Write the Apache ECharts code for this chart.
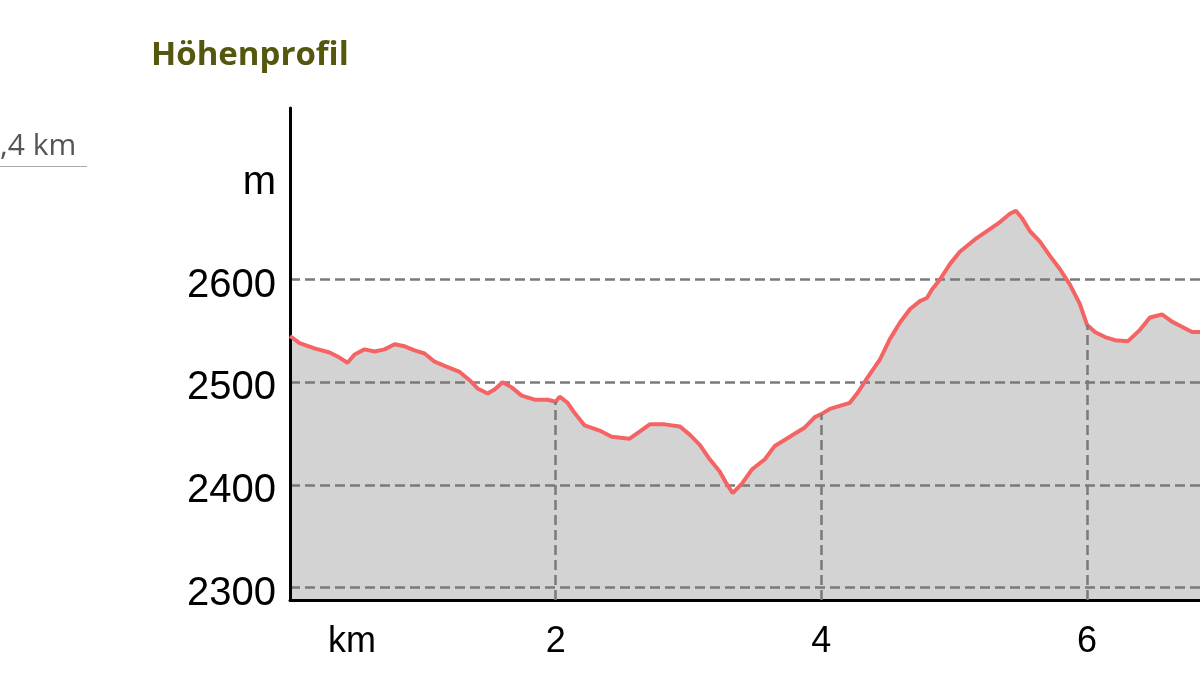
<!DOCTYPE html>
<html>
<head>
<meta charset="utf-8">
<script src="https://cdn.jsdelivr.net/npm/echarts@6/dist/echarts.min.js"></script>
<style>
html,body{margin:0;padding:0;background:#fff;}
#chart{width:1200px;height:684px;}
</style>
</head>
<body>
<div id="chart"></div>
<script>
// distance along route (km)
const distanceKm = [0, 0.072, 0.185, 0.298, 0.373, 0.433, 0.486, 0.561, 0.637, 0.712, 0.787, 0.863, 0.938, 1.013, 1.089, 1.164, 1.277, 1.352, 1.412, 1.488, 1.540, 1.601, 1.669, 1.744, 1.842, 1.940, 2.0, 2.030, 2.090, 2.143, 2.218, 2.331, 2.422, 2.557, 2.632, 2.708, 2.821, 2.934, 3.009, 3.085, 3.160, 3.235, 3.288, 3.333, 3.401, 3.477, 3.575, 3.650, 3.763, 3.876, 3.951, 4.0, 4.064, 4.215, 4.275, 4.350, 4.441, 4.516, 4.591, 4.667, 4.742, 4.795, 4.832, 4.893, 4.968, 5.043, 5.156, 5.269, 5.345, 5.420, 5.465, 5.510, 5.571, 5.646, 5.721, 5.797, 5.872, 5.947, 6.0, 6.060, 6.136, 6.211, 6.309, 6.399, 6.474, 6.565, 6.640, 6.715, 6.791, 6.851];
// elevation (m)
const elevationM = [2545, 2538, 2533, 2529, 2524, 2519, 2527, 2532, 2530, 2532, 2537, 2535, 2531, 2528, 2520, 2516, 2510, 2502, 2494, 2489, 2493, 2500, 2495, 2487, 2483, 2483, 2481, 2486, 2480, 2470, 2458, 2453, 2447, 2445, 2452, 2459, 2459, 2457, 2449, 2439, 2425, 2413, 2401, 2392, 2401, 2415, 2425, 2438, 2447, 2456, 2466, 2469, 2474, 2480, 2490, 2505, 2522, 2542, 2558, 2571, 2579, 2582, 2590, 2600, 2615, 2627, 2639, 2649, 2656, 2664, 2667, 2660, 2647, 2637, 2623, 2610, 2595, 2576, 2556, 2549, 2544, 2541, 2540, 2551, 2563, 2566, 2559, 2554, 2549, 2549];
const yTickValues = [2300, 2400, 2500, 2600];
const yLabelValues = [2300, 2400, 2500, 2600, 2700];
const yUnitLabel = 'm';
const xTickValues = [2, 4, 6];
const xUnitLabel = 'km';
const titleText = 'Höhenprofil';
const sideText = ',4 km';

const yMin = 2288, yMax = 2767, xMax = 6.851;

const seriesData = distanceKm.map((d, i) => [d, elevationM[i]]);
function elevAt(km) {
  const i = distanceKm.indexOf(km);
  return elevationM[i];
}
const vLines = xTickValues.map(v => [{coord: [v, yMin]}, {coord: [v, elevAt(v)]}]);

const chart = echarts.init(document.getElementById('chart'));
chart.setOption({
  animation: false,
  backgroundColor: '#ffffff',
  grid: {left: 290, top: 108, right: 0, bottom: 84},
  graphic: [
    {type: 'text', left: 151, top: 39, style: {text: titleText, font: 'bold 33px "Open Sans"', fill: '#55570f'}},
    {type: 'text', left: 0, top: 131, style: {text: sideText, font: '30px "Open Sans"', fill: '#555555'}},
    {type: 'rect', shape: {x: 0, y: 166, width: 87, height: 1}, style: {fill: '#aaaaaa'}},
    {type: 'text', left: 328, top: 624, style: {text: xUnitLabel, font: '36px "Liberation Sans"', fill: '#000'}}
  ],
  xAxis: {
    type: 'value', min: 0, max: xMax,
    axisLine: {show: true, onZero: false, lineStyle: {color: '#000', width: 3}},
    axisTick: {show: false, customValues: xTickValues},
    splitLine: {show: false},
    axisLabel: {customValues: xTickValues, color: '#000', fontSize: 36, fontFamily: 'Liberation Sans', margin: 24},
    z: 4
  },
  yAxis: {
    type: 'value', min: yMin, max: yMax,
    axisLine: {show: true, lineStyle: {color: '#000', width: 3}},
    axisTick: {show: false, customValues: yTickValues},
    splitLine: {show: true, lineStyle: {color: '#7a7a7a', width: 2.5, type: [10, 5]}},
    axisLabel: {
      customValues: yLabelValues, color: '#000', fontSize: 40, fontFamily: 'Liberation Sans', margin: 14,
      verticalAlign: 'top', lineHeight: 12,
      formatter: v => (v === 2700 ? yUnitLabel : String(v))
    },
    z: 2
  },
  series: [{
    type: 'line', data: seriesData, symbol: 'none', smooth: false,
    lineStyle: {width: 0, opacity: 0},
    areaStyle: {color: '#d3d3d3', opacity: 1, origin: 'start'},
    markLine: {
      silent: true, symbol: 'none', label: {show: false},
      lineStyle: {color: '#7a7a7a', width: 2.5, type: [10, 5]},
      data: vLines
    },
    z: 1
  }, {
    type: 'line', data: seriesData, symbol: 'none', smooth: false,
    lineStyle: {color: '#f56464', width: 4},
    z: 3
  }]
});
</script>
</body>
</html>
